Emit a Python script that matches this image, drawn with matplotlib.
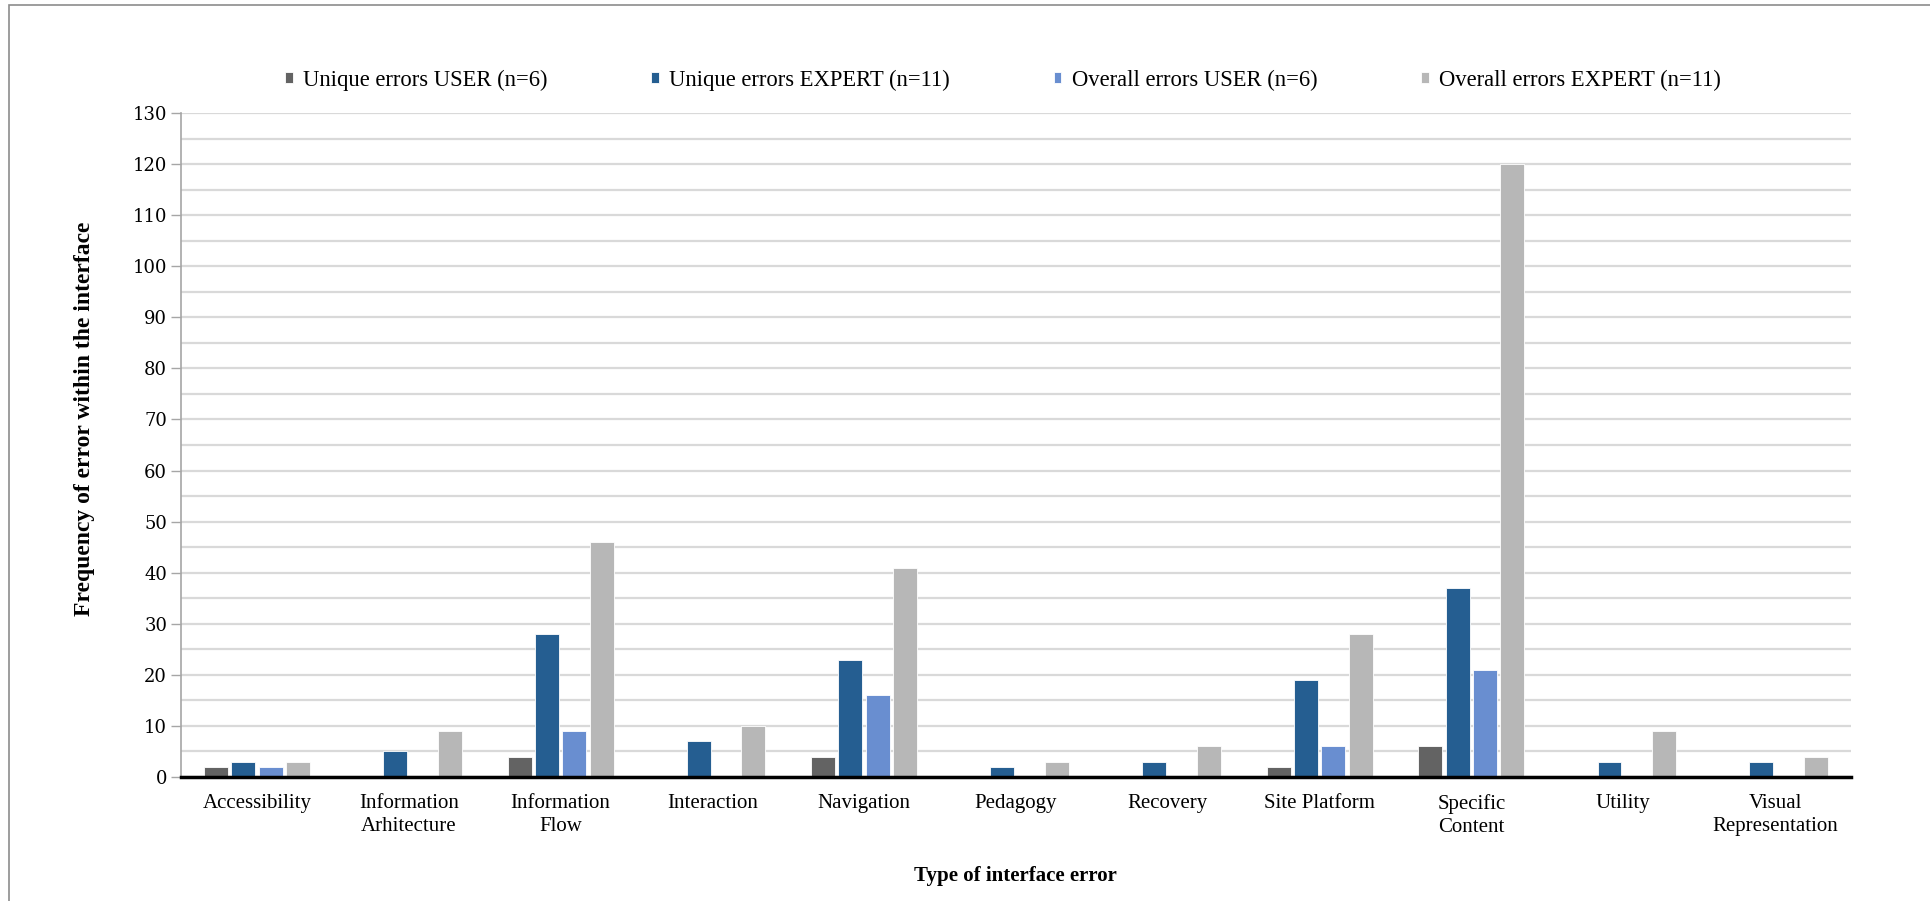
import numpy as np
import matplotlib.pyplot as plt
from matplotlib.patches import Rectangle
from matplotlib.ticker import MultipleLocator

categories = ["Accessibility", "Information\nArhitecture", "Information\nFlow",
              "Interaction", "Navigation", "Pedagogy", "Recovery",
              "Site Platform", "Specific\nContent", "Utility",
              "Visual\nRepresentation"]

unique_user = [2, 0, 4, 0, 4, 0, 0, 2, 6, 0, 0]
unique_expert = [3, 5, 28, 7, 23, 2, 3, 19, 37, 3, 3]
overall_user = [2, 0, 9, 0, 16, 0, 0, 6, 21, 0, 0]
overall_expert = [3, 9, 46, 10, 41, 3, 6, 28, 120, 9, 4]

series = [
    ("Unique errors USER (n=6)", unique_user, "#636363"),
    ("Unique errors EXPERT (n=11)", unique_expert, "#255e91"),
    ("Overall errors USER (n=6)", overall_user, "#698ed0"),
    ("Overall errors EXPERT (n=11)", overall_expert, "#b7b7b7"),
]

plt.rcParams['font.family'] = ['Liberation Serif', 'DejaVu Serif']

fig = plt.figure(figsize=(19.3, 9.01), dpi=100)
ax = fig.add_axes([0.0938, 0.1376, 0.8652, 0.737])

x = np.arange(len(categories))
width = 0.158
step = 0.18
for i, (label, vals, color) in enumerate(series):
    offset = (i - 1.5) * step
    ax.bar(x + offset, vals, width, color=color, label=label,
           edgecolor="white", linewidth=0.6, zorder=3)

ax.set_xlim(-0.5, len(categories) - 0.5)
ax.set_ylim(0, 130)
ax.yaxis.set_major_locator(MultipleLocator(10))
ax.yaxis.set_minor_locator(MultipleLocator(5))
ax.grid(axis="y", which="both", color="#d9d9d9", linewidth=1.6, zorder=0)
ax.set_axisbelow(True)

ax.set_xticks(x)
ax.set_xticklabels(categories, fontsize=15, linespacing=1.3)
ax.tick_params(axis="x", length=0, pad=12)
ax.tick_params(axis="y", which="major", length=7, width=1, color="#a6a6a6",
               pad=3)
ax.tick_params(axis="y", which="minor", length=0)
for lbl in ax.get_yticklabels():
    lbl.set_family("DejaVu Serif")
    lbl.set_fontsize(13)

for side in ["top", "right"]:
    ax.spines[side].set_visible(False)
ax.spines["left"].set_color("#a6a6a6")
ax.spines["left"].set_linewidth(1.2)
ax.spines["bottom"].set_color("black")
ax.spines["bottom"].set_linewidth(2.5)
ax.spines["bottom"].set_zorder(4)

ax.set_ylabel("Frequency of error within the interface", fontsize=17,
              fontweight="bold", va="center")
ax.yaxis.set_label_coords(-0.058, 0.54)
ax.set_xlabel("Type of interface error", fontsize=15, fontweight="bold",
              va="center")
ax.xaxis.set_label_coords(0.4994, -0.149)

fig.legend(loc="center", bbox_to_anchor=(0.5197, 0.911), ncol=4, frameon=False,
           fontsize=16.3, handlelength=0.33, handleheight=0.33,
           handletextpad=0.45, columnspacing=4.6)

# thin frame around the chart area
fig.patches.append(Rectangle((9 / 1930, -0.01), 1.0, 1 - 5 / 901 + 0.01,
                             transform=fig.transFigure, fill=False,
                             edgecolor="#8c8c8c", linewidth=1.2))

fig.savefig("out.png", dpi=100)
